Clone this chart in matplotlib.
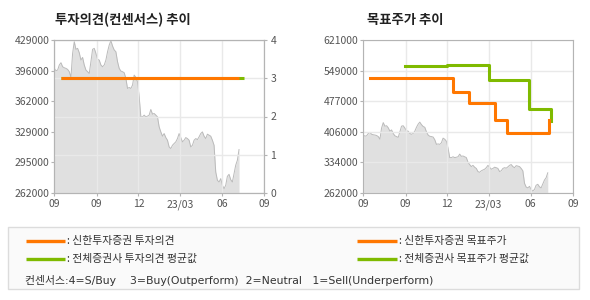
import matplotlib
matplotlib.use("Agg")
import matplotlib.pyplot as plt
from matplotlib.patches import Rectangle
from matplotlib.lines import Line2D
import numpy as np
import pandas as pd

plt.rcParams['font.family'] = ['Noto Sans CJK KR', 'DejaVu Sans']

# ---------------- data ----------------
price_start = '2022-06-01'
price_end = '2023-07-08'
prices = [398000, 395500, 396200, 401700, 404200, 399800, 398700, 398000, 396900, 394400,
          388200, 414400, 427200, 418800, 419900, 415100, 407100, 410000, 401700, 396200,
          394400, 392500, 405300, 418800, 419900, 414400, 407900, 407100, 401700, 399800,
          401700, 407100, 416200, 423500, 428300, 422400, 418100, 416200, 405300, 398000,
          395100, 394400, 393300, 387100, 376100, 377200, 376100, 379800, 390700, 388200,
          383400, 367000, 345100, 345100, 347000, 345100, 345900, 347000, 353200, 348100,
          348800, 347000, 345100, 334200, 328700, 324000, 326900, 322500, 319600, 312300,
          310500, 314100, 316000, 317800, 321400, 326900, 322500, 317800, 319600, 322500,
          321400, 319600, 312300, 314100, 319600, 321400, 320300, 323300, 326900, 328700,
          324000, 321400, 326200, 325100, 324000, 319600, 314100, 285000, 275900, 274000,
          277700, 270400, 266700, 270400, 280200, 282400, 276600, 274000, 283100, 292300,
          297700, 309400]

# investment opinion (1..4 scale)
shinhan_op_dates = ['2022-06-16', '2023-07-09']
shinhan_op = [3, 3]
all_op_dates = ['2022-06-16', '2023-07-18']
all_op = [3, 3]

# target prices
shinhan_tp_dates = ['2022-06-16', '2022-12-13', '2023-01-18', '2023-03-15', '2023-04-10', '2023-07-10']
shinhan_tp = [532000, 500000, 473000, 434000, 402000, 434000]
all_tp_dates = ['2022-08-31', '2022-11-30', '2023-03-02', '2023-05-28', '2023-07-15']
all_tp = [560000, 562000, 526000, 460000, 432000]

xtick_dates = ['2022-06-01', '2022-09-01', '2022-12-01', '2023-03-01', '2023-06-01', '2023-09-01']
xtick_labels = ['09', '09', '12', '23/03', '06', '09']

left_ylim = (262000, 429000)
left_ytick_labels = ['262000', '295000', '329000', '362000', '396000', '429000']
right_ylim = (262000, 621000)
right_ytick_labels = ['262000', '334000', '406000', '477000', '549000', '621000']
op_ticks = [0, 1, 2, 3, 4]

title_left = '투자의견(컨센서스) 추이'
title_right = '목표주가 추이'
legend_items = [': 신한투자증권 투자의견', ': 전체증권사 투자의견 평균값',
                ': 신한투자증권 목표주가', ': 전체증권사 목표주가 평균값']
consensus_note = '컨센서스:4=S/Buy    3=Buy(Outperform)  2=Neutral   1=Sell(Underperform)'

# ---------------- style ----------------
ORANGE = '#ff7700'
GREEN = '#7fba00'
FILL = '#e0e0e0'
PLINE = '#bababa'
GRID = '#e9e9e9'
SPINE = '#b4b4b4'
TICKC = '#555555'
FS = 7.5

pdates = pd.date_range(price_start, price_end, periods=len(prices))
xt = pd.to_datetime(xtick_dates)
xlim = (xt[0], xt[-1])

fig = plt.figure(figsize=(5.9, 3.0), dpi=100)

def style_axes(ax):
    for s in ax.spines.values():
        s.set_color(SPINE)
        s.set_linewidth(0.8)
    ax.tick_params(colors=SPINE, labelcolor=TICKC, labelsize=FS, length=2.5, width=0.8, pad=1)

# ---- left chart ----
axL = fig.add_axes([54.3/590, 1-193/300, 210/590, 153/300])
axL.fill_between(pdates, prices, left_ylim[0], color=FILL, lw=0, zorder=1)
axL.plot(pdates, prices, color=PLINE, lw=0.7, zorder=1.2)
axL.set_xlim(xlim)
axL.set_ylim(left_ylim)
axL.set_yticks(np.linspace(left_ylim[0], left_ylim[1], len(left_ytick_labels)))
axL.set_yticklabels(left_ytick_labels)
axL.set_xticks(xt)
axL.set_xticklabels(xtick_labels)
axL.set_axisbelow('line')
axL.grid(True, axis='x', color=GRID, lw=1.0)
style_axes(axL)
axL.tick_params(axis='x', pad=2)

axR = axL.twinx()
axR.set_ylim(0, 4)
axR.set_yticks(op_ticks)
axR.grid(True, axis='y', color=GRID, lw=1.0, zorder=0.5)
axR.plot(pd.to_datetime(all_op_dates), all_op, color=GREEN, lw=2.2, solid_capstyle='butt', zorder=3)
axR.plot(pd.to_datetime(shinhan_op_dates), shinhan_op, color=ORANGE, lw=2.2, solid_capstyle='butt', zorder=4)
style_axes(axR)
axR.tick_params(axis='y', pad=2)
axR.set_xlim(xlim)

fig.text(55/590, 1-20/300, title_left, fontsize=9.6, fontweight='bold', color='#222222',
         ha='left', va='center')

# ---- right chart ----
ax2 = fig.add_axes([363.3/590, 1-193/300, 209.7/590, 153/300])
ax2.fill_between(pdates, prices, right_ylim[0], color=FILL, lw=0, zorder=1)
ax2.plot(pdates, prices, color=PLINE, lw=0.7, zorder=1.2)
ax2.set_axisbelow('line')
ax2.grid(True, color=GRID, lw=1.0)
ax2.plot(pd.to_datetime(all_tp_dates), all_tp, color=GREEN, lw=2.2, drawstyle='steps-post', zorder=3)
ax2.plot(pd.to_datetime(shinhan_tp_dates), shinhan_tp, color=ORANGE, lw=2.2, drawstyle='steps-post', zorder=4)
ax2.set_xlim(xlim)
ax2.set_ylim(right_ylim)
ax2.set_yticks(np.linspace(right_ylim[0], right_ylim[1], len(right_ytick_labels)))
ax2.set_yticklabels(right_ytick_labels)
ax2.set_xticks(xt)
ax2.set_xticklabels(xtick_labels)
style_axes(ax2)
ax2.tick_params(axis='x', pad=2)

fig.text(367/590, 1-20/300, title_right, fontsize=9.6, fontweight='bold', color='#222222',
         ha='left', va='center')

# ---- legend box ----
fig.add_artist(Rectangle((8/590, 1-289/300), 571/590, 62/300, transform=fig.transFigure,
                         facecolor='#fafafa', edgecolor='#dcdcdc', lw=1.0))
rows_y = [1-240.7/300, 1-259/300]
cols = [(26, 65, 67), (357, 397, 399)]
colors = [ORANGE, GREEN]
k = 0
for (x0, x1, xt_) in cols:
    for r, y in enumerate(rows_y):
        fig.add_artist(Line2D([x0/590, x1/590], [y, y], transform=fig.transFigure,
                              color=colors[r], lw=2.4, solid_capstyle='butt'))
        fig.text(xt_/590, y, legend_items[k], fontsize=7.8, color='#333333',
                 ha='left', va='center')
        k += 1
fig.text(25/590, 1-280/300, consensus_note, fontsize=7.8, color='#333333', ha='left', va='center',
         family=['DejaVu Sans', 'Noto Sans CJK KR'])

fig.savefig('out.png', dpi=100)
